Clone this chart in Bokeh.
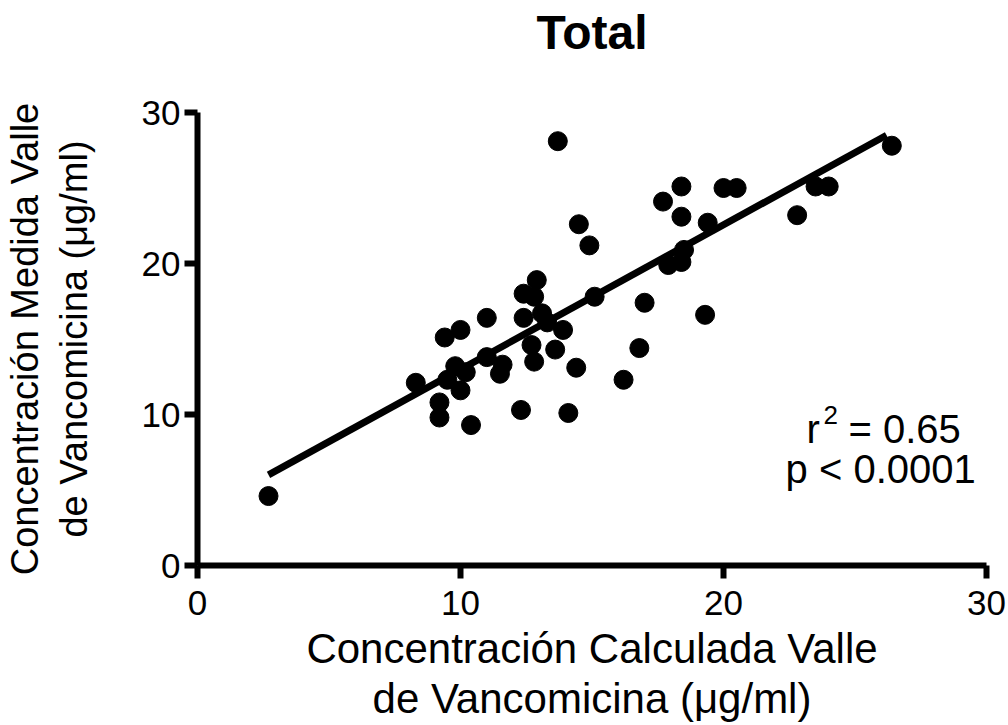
from bokeh.plotting import figure
from bokeh.models import Range1d, Label, FixedTicker
from bokeh.embed import file_html
from bokeh.resources import INLINE

# ---- data ----
calc = [2.7, 26.4, 18.4, 17.7, 18.4, 19.4, 20.0, 20.5, 23.5, 24.0, 22.8, 18.5, 17.9, 18.4,
        17.0, 19.3, 15.1, 13.7, 14.5, 14.9, 12.9, 12.4, 12.8, 11.0, 12.4, 13.1, 13.3, 13.9,
        10.0, 9.4, 12.7, 13.6, 16.8, 11.0, 9.8, 10.2, 11.6, 11.5, 12.8, 14.4, 16.2, 8.3,
        9.5, 10.0, 9.2, 9.2, 10.4, 12.3, 14.1]
medida = [4.6, 27.8, 25.1, 24.1, 23.1, 22.7, 25.0, 25.0, 25.1, 25.1, 23.2, 20.9, 19.9, 20.1,
          17.4, 16.6, 17.8, 28.1, 22.6, 21.2, 18.9, 18.0, 17.8, 16.4, 16.4, 16.7, 16.1, 15.6,
          15.6, 15.1, 14.6, 14.3, 14.4, 13.8, 13.2, 12.8, 13.3, 12.7, 13.5, 13.1, 12.3, 12.1,
          12.3, 11.6, 10.8, 9.8, 9.3, 10.3, 10.1]
fit_x = [2.7, 26.2]
fit_slope = 0.957
fit_intercept = 3.42
ticks = [0, 10, 20, 30]
title_text = "Total"
x_label = "Concentración Calculada Valle\nde Vancomicina (μg/ml)"
y_label = "Concentración Medida Valle\nde Vancomicina (μg/ml)"
r_text = "r"
r_sup = "2"
r2_text = "= 0.65"
p_text = "p < 0.0001"

FONT = "Liberation Sans"

p = figure(width=1008, height=725, output_backend="svg", toolbar_location=None,
           x_range=Range1d(0, 30), y_range=Range1d(0, 30),
           min_border_left=197, min_border_right=22, min_border_top=112, min_border_bottom=160)

# title: a blank second line pushes "Total" up, away from the plot frame
p.title.text = title_text + "\n "
p.title.text_font = FONT
p.title.text_font_size = "48px"
p.title.text_font_style = "bold"
p.title.text_color = "black"
p.title.text_line_height = 0.98
p.title.align = "center"
p.title.vertical_align = "top"
p.title.standoff = 0

p.grid.visible = False
p.outline_line_color = None
p.background_fill_color = "white"
p.border_fill_color = "white"

for ax in (p.xaxis[0], p.yaxis[0]):
    ax.ticker = FixedTicker(ticks=ticks)
    ax.axis_line_width = 6
    ax.axis_line_color = "black"
    ax.major_tick_line_width = 6
    ax.major_tick_line_color = "black"
    ax.major_tick_out = 13
    ax.major_tick_in = 0
    ax.minor_tick_line_color = None
    ax.major_label_text_font = FONT
    ax.major_label_text_font_size = "35px"
    ax.major_label_text_color = "black"
    ax.axis_label_text_font = FONT
    ax.axis_label_text_font_style = "normal"
    ax.axis_label_text_color = "black"

p.xaxis[0].axis_label = x_label
p.xaxis[0].axis_label_text_font_size = "42px"
p.xaxis[0].axis_label_text_line_height = 1.07
p.xaxis[0].axis_label_standoff = 7
p.xaxis[0].major_label_standoff = 12
p.yaxis[0].axis_label = y_label
p.yaxis[0].axis_label_text_font_size = "38px"
p.yaxis[0].axis_label_text_line_height = 1.15
p.yaxis[0].axis_label_standoff = 44
p.yaxis[0].major_label_standoff = 4

fit_y = [fit_intercept + fit_slope * x for x in fit_x]
p.line(fit_x, fit_y, line_width=7, line_color="black")
p.scatter(calc, medida, size=19, fill_color="black", line_color="black", marker="circle")

common = dict(text_font=FONT, text_color="black", text_align="left", text_baseline="alphabetic")
p.add_layout(Label(x=23.16, y=9.07, text=r_text, text_font_size="40px", **common))
p.add_layout(Label(x=23.8, y=9.95, text=r_sup, text_font_size="26px", **common))
p.add_layout(Label(x=24.75, y=9.07, text=r2_text, text_font_size="40px", **common))
p.add_layout(Label(x=22.36, y=6.42, text=p_text, text_font_size="40px", **common))

open("out.html", "w").write(file_html(p, INLINE))
